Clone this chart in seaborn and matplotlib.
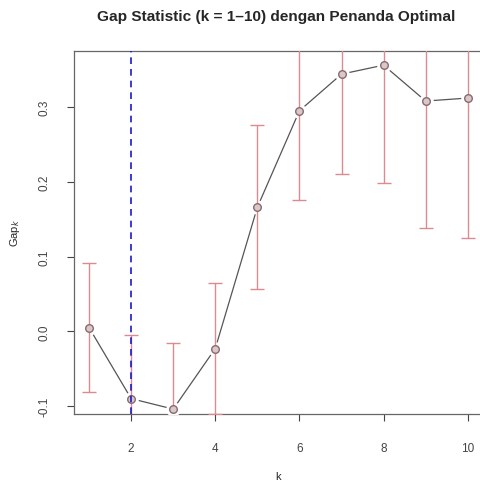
import matplotlib
matplotlib.use("Agg")
import matplotlib.pyplot as plt
import numpy as np
import pandas as pd
import seaborn as sns

# data
k = [1, 2, 3, 4, 5, 6, 7, 8, 9, 10]
gap = [0.005, -0.090, -0.104, -0.023, 0.166, 0.295, 0.344, 0.356, 0.308, 0.312]
se = [0.086, 0.085, 0.088, 0.088, 0.110, 0.120, 0.134, 0.158, 0.170, 0.187]
k_opt = 2

df = pd.DataFrame({"k": k, "gap": gap, "se": se})

sns.set_theme(style="ticks")
plt.rcParams["font.family"] = ["Liberation Sans", "DejaVu Sans"]

fig = plt.figure(figsize=(4.8, 4.81), dpi=100)
ax = fig.add_axes([0.154, 0.137, 0.852, 0.755])

sns.lineplot(data=df, x="k", y="gap", color="#555555", linewidth=0.9, ax=ax, zorder=2)
# gaps around the points like R type="b"
ax.scatter(df["k"], df["gap"], s=110, color="white", zorder=3, linewidths=0)
ax.errorbar(df["k"], df["gap"], yerr=df["se"], fmt="none", ecolor="#dc8a8f",
            elinewidth=1.0, capsize=5, capthick=1.0, zorder=4)
sns.scatterplot(data=df, x="k", y="gap", marker="o", s=30, facecolor="#d8c8ca",
                edgecolor="#8a6a6e", linewidth=1.0, ax=ax, zorder=5)
ax.axvline(k_opt, color="#1a1acc", linestyle=(0, (4, 3)), linewidth=1.2, zorder=6)

ax.set_xlim(0.64, 10.36)
ax.set_ylim(-0.1107, 0.375)
ax.set_xticks([2, 4, 6, 8, 10])
ax.set_yticks([-0.1, 0.0, 0.1, 0.2, 0.3])
ax.set_yticklabels(["-0.1", "0.0", "0.1", "0.2", "0.3"], rotation=90, va="center")
ax.tick_params(labelsize=8.5, colors="#444444", length=5, width=0.8)
ax.tick_params(axis="x", pad=15)
ax.tick_params(axis="y", pad=12)
for s in ax.spines.values():
    s.set_visible(True)
    s.set_color("#666666")
    s.set_linewidth(0.9)

ax.set_xlabel("k", fontsize=8, labelpad=12)
ax.set_ylabel(r"Gap$_k$", fontsize=8, labelpad=12)
fig.text(0.575, 0.965, "Gap Statistic (k = 1\u201310) dengan Penanda Optimal",
         ha="center", va="center", fontsize=11.1, fontweight="bold")

fig.savefig("out.png", dpi=100)
